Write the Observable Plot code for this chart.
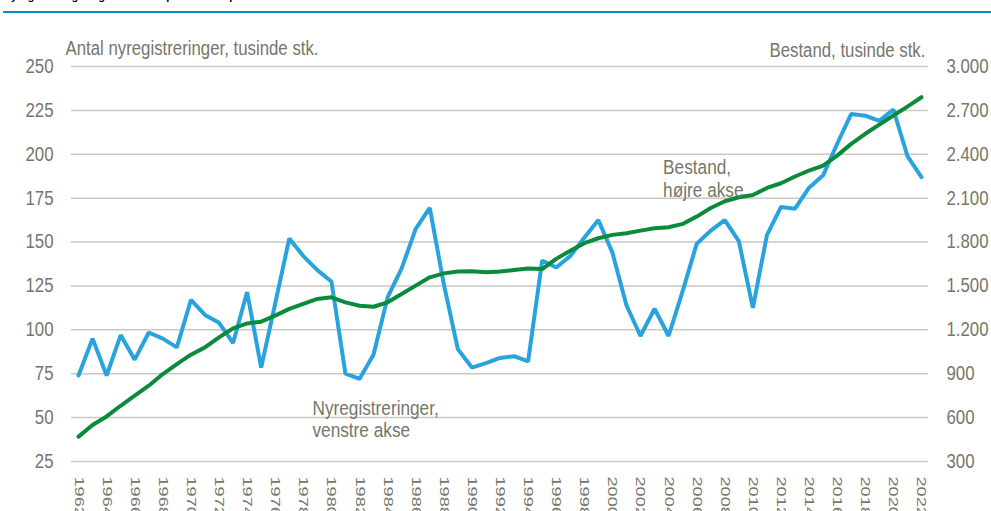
<!DOCTYPE html>
<html>
<head>
<meta charset="utf-8">
<script src="https://cdn.jsdelivr.net/npm/d3@7"></script>
<script src="https://cdn.jsdelivr.net/npm/@observablehq/plot@0.6"></script>
<style>
  html, body { margin: 0; padding: 0; background: #fff; }
  body { width: 991px; height: 511px; overflow: hidden; }
  #hdr { position: relative; height: 14px; overflow: hidden; }
  #title { position: absolute; left: 3px; top: -10px; font: bold 11px "Liberation Sans", Arial, sans-serif; line-height: 12px; color: #000; white-space: nowrap; }
  #rule { position: absolute; left: 3px; right: 0; top: 11px; height: 2px; background: #0090d0; }
  #chart svg { display: block; }
</style>
</head>
<body>
<div id="hdr"><div id="title">Nyregistreringer og bestand af personbiler pr. år</div><div id="rule"></div></div>
<div id="chart"></div>
<script>
// ---- data ----
const years = [1962,1963,1964,1965,1966,1967,1968,1969,1970,1971,1972,1973,1974,1975,1976,1977,1978,1979,1980,1981,
  1982,1983,1984,1985,1986,1987,1988,1989,1990,1991,1992,1993,1994,1995,1996,1997,1998,1999,2000,2001,
  2002,2003,2004,2005,2006,2007,2008,2009,2010,2011,2012,2013,2014,2015,2016,2017,2018,2019,2020,2021,2022];

// Nyregistreringer, tusinde stk. (venstre akse)
const nyregistreringer = [74,95,74,97,83,98.5,95,90,117,108.5,104,92.5,121.5,78.5,115,152,142,134,127.5,75,
  72,86,118.5,135,157.5,169.5,126,89,78.5,81,84,85,82,139.5,135.5,142,152.5,162.5,144,114,
  96.5,112,96.5,122,149,156.5,162.5,150.5,112.5,154,170,169,181,188,206,223,222,219,225.5,199,187];

// Bestand, tusinde stk. (højre akse)
const bestand = [470,550,608,681,750,818,898,966,1030,1080,1148,1210,1244,1256,1297,1343,1377,1411,1422,1388,
  1365,1358,1388,1445,1502,1559,1586,1598,1600,1593,1598,1609,1620,1615,1685,1741,1792,1826,1849,1860,
  1878,1894,1901,1924,1974,2033,2079,2106,2122,2170,2202,2248,2289,2323,2391,2471,2540,2603,2665,2726,2790];

const leftTicks = [25,50,75,100,125,150,175,200,225,250];
const rightTicks = [300,600,900,1200,1500,1800,2100,2400,2700,3000];
const xTickYears = [1962,1964,1966,1968,1970,1972,1974,1976,1978,1980,1982,1984,1986,1988,1990,1992,1994,1996,1998,2000,
  2002,2004,2006,2008,2010,2012,2014,2016,2018,2020,2022];

const leftTitle = "Antal nyregistreringer, tusinde stk.";
const rightTitle = "Bestand, tusinde stk.";
const blueLabel = "Nyregistreringer,\nvenstre akse";
const greenLabel = "Bestand,\nhøjre akse";

// ---- build ----
const data = years.map((y, i) => ({year: y, nyreg: nyregistreringer[i], bestand: bestand[i]}));
const toLeft = v => 25 + (v - 300) / 12;
const fromLeft = v => (v - 25) * 12 + 300;
const loc = d3.formatLocale({decimal: ",", thousands: ".", grouping: [3], currency: ["", ""]});
const fmtR = loc.format(",.0f");

const textColor = "#76766a";
const font = '"Liberation Sans", Arial, sans-serif';

const plot = Plot.plot({
  width: 991,
  height: 497,
  marginLeft: 71,
  marginRight: 63,
  marginTop: 52,
  marginBottom: 50,
  style: {fontFamily: font, fontSize: "20px", color: textColor, background: "#fff", overflow: "visible"},
  x: {domain: [1961.5, 2022.5]},
  y: {domain: [25, 250]},
  marks: [
    Plot.gridY(leftTicks, {stroke: "#c9c9c1", strokeOpacity: 1, strokeWidth: 1.5}),
    Plot.axisY(leftTicks, {anchor: "left", tickSize: 0, tickPadding: 18, label: null, tickFormat: d => String(d), fontSize: 20}),
    Plot.axisY(rightTicks.map(toLeft), {anchor: "right", tickSize: 0, tickPadding: 18, label: null, tickFormat: d => fmtR(Math.round(fromLeft(d))), fontSize: 20}),
    Plot.axisX(xTickYears, {anchor: "bottom", tickSize: 0, tickPadding: 15, tickRotate: 90, label: null, tickFormat: d => String(d),
      fontSize: 12.5}),
    Plot.line(data, {x: "year", y: "nyreg", stroke: "#29a3dd", strokeWidth: 4, strokeLinejoin: "miter", curve: "linear"}),
    Plot.line(data, {x: "year", y: d => toLeft(d.bestand), stroke: "#0b8a3b", strokeWidth: 4, strokeLinejoin: "round"}),
    Plot.text([leftTitle], {x: 1961.07, y: 264.6, text: d => d, textAnchor: "start", lineAnchor: "top", fontSize: 20, fill: textColor}),
    Plot.text([rightTitle], {x: 2022.28, y: 263.4, text: d => d, textAnchor: "end", lineAnchor: "top", fontSize: 20, fill: textColor}),
    Plot.text([blueLabel], {x: 1978.65, y: 60.7, text: d => d, textAnchor: "start", lineAnchor: "top", lineHeight: 1.08, fontSize: 20.5, fill: textColor}),
    Plot.text([greenLabel], {x: 2003.61, y: 198.1, text: d => d, textAnchor: "start", lineAnchor: "top", lineHeight: 1.12, fontSize: 20.5, fill: textColor})
  ]
});

document.getElementById("chart").appendChild(plot);

// stretch the rotated year labels along the text direction
const yearTexts = new Set(plot.querySelectorAll('[aria-label="x-axis tick label"] text'));
yearTexts.forEach(t => {
  const tr = t.getAttribute("transform") || "";
  t.setAttribute("transform", tr + " scale(1.45,1)");
});

// condense the other texts horizontally (the reference uses a narrow face)
const squeeze = 0.84;
plot.querySelectorAll("text").forEach(t => {
  if (yearTexts.has(t)) return;
  const spans = t.querySelectorAll("tspan");
  const targets = spans.length ? Array.from(spans) : [t];
  targets.forEach(el => {
    const len = el.getComputedTextLength();
    if (len > 0) {
      el.setAttribute("textLength", (len * squeeze).toFixed(2));
      el.setAttribute("lengthAdjust", "spacingAndGlyphs");
    }
  });
});
</script>
</body>
</html>
